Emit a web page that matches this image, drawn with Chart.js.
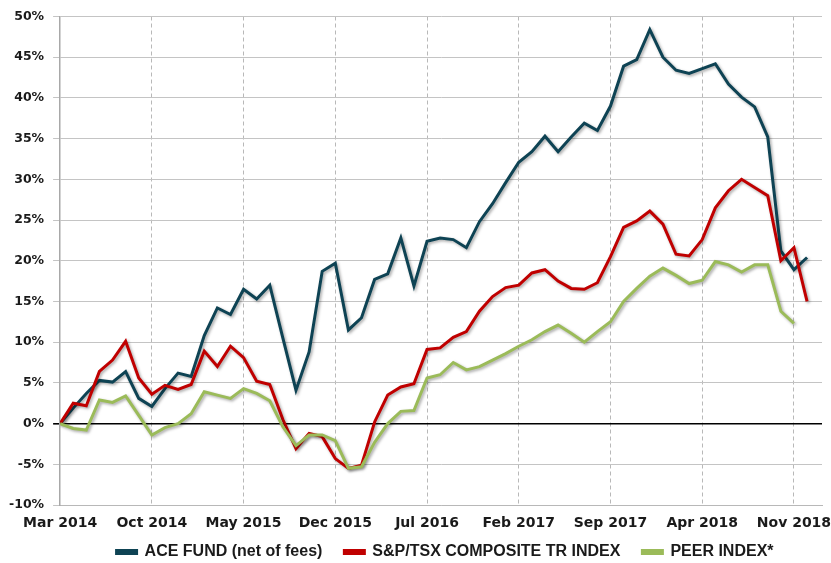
<!DOCTYPE html>
<html>
<head>
<meta charset="utf-8">
<script src="https://cdn.jsdelivr.net/npm/chart.js@4.4.0/dist/chart.umd.min.js"></script>
<style>
  html, body { margin: 0; padding: 0; background: #fff; }
  #wrap { width: 831px; height: 563px; }
</style>
</head>
<body>
<div id="wrap"><canvas id="perfChart"></canvas></div>
<script>
// mois de mars 2014 à décembre 2018
const months = ['Mar 2014','Apr 2014','May 2014','Jun 2014','Jul 2014','Aug 2014','Sep 2014',
  'Oct 2014','Nov 2014','Dec 2014','Jan 2015','Feb 2015','Mar 2015','Apr 2015',
  'May 2015','Jun 2015','Jul 2015','Aug 2015','Sep 2015','Oct 2015','Nov 2015',
  'Dec 2015','Jan 2016','Feb 2016','Mar 2016','Apr 2016','May 2016','Jun 2016',
  'Jul 2016','Aug 2016','Sep 2016','Oct 2016','Nov 2016','Dec 2016','Jan 2017',
  'Feb 2017','Mar 2017','Apr 2017','May 2017','Jun 2017','Jul 2017','Aug 2017',
  'Sep 2017','Oct 2017','Nov 2017','Dec 2017','Jan 2018','Feb 2018','Mar 2018',
  'Apr 2018','May 2018','Jun 2018','Jul 2018','Aug 2018','Sep 2018','Oct 2018',
  'Nov 2018','Dec 2018'];

const aceFund = [0, 1.9, 3.7, 5.3, 5.1, 6.4, 3.1, 2.1, 4.3, 6.2, 5.8, 10.8, 14.2, 13.4,
  16.5, 15.3, 17.0, 10.5, 4.1, 8.8, 18.7, 19.7, 11.5, 13.0, 17.7, 18.4, 22.8, 16.9,
  22.4, 22.8, 22.6, 21.6, 24.8, 27.0, 29.6, 32.1, 33.4, 35.3, 33.4, 35.2, 36.9, 36.0,
  39.0, 43.9, 44.7, 48.4, 45.0, 43.4, 43.0, 43.6, 44.2, 41.7, 40.1, 38.9, 35.2,
  21.2, 18.9, 20.4];

const spTsx = [0, 2.5, 2.2, 6.4, 7.8, 10.1, 5.6, 3.6, 4.7, 4.2, 4.8, 8.9, 7.0, 9.5,
  8.1, 5.2, 4.8, 0.5, -3.1, -1.2, -1.6, -4.3, -5.5, -5.1, 0.2, 3.5, 4.5, 4.9,
  9.1, 9.3, 10.6, 11.3, 13.8, 15.6, 16.7, 17.0, 18.5, 18.9, 17.5, 16.6, 16.5, 17.3,
  20.5, 24.1, 24.9, 26.1, 24.5, 20.8, 20.6, 22.6, 26.5, 28.6, 30.0, 29.0, 28.0,
  20.0, 21.6, 15.0];

const peerIndex = [0, -0.6, -0.8, 2.9, 2.6, 3.4, 1.0, -1.4, -0.5, 0.0, 1.2, 3.9, 3.5, 3.1,
  4.3, 3.7, 2.8, -0.4, -2.7, -1.4, -1.4, -2.1, -5.5, -5.3, -2.3, 0.0, 1.5, 1.6,
  5.6, 6.0, 7.5, 6.6, 7.0, 7.8, 8.6, 9.5, 10.3, 11.3, 12.1, 11.1, 10.0, 11.3,
  12.5, 15.0, 16.6, 18.1, 19.1, 18.2, 17.2, 17.6, 19.9, 19.5, 18.6, 19.5, 19.5,
  13.8, 12.3];

const seriesNames = ['ACE FUND (net of fees)', 'S&P/TSX COMPOSITE TR INDEX', 'PEER INDEX*'];
const seriesColors = ['#0e4354', '#c00000', '#9bbb59'];

function toPoints(values) {
    return values.map((v, i) => ({ x: i, y: v }));
}

// ombre légère sous les courbes
const shadowPlugin = {
    id: 'lineShadow',
    beforeDatasetDraw(chart) {
        const ctx = chart.ctx;
        ctx.save();
        ctx.shadowColor = 'rgba(0,0,0,0.35)';
        ctx.shadowBlur = 3;
        ctx.shadowOffsetX = 1.5;
        ctx.shadowOffsetY = 1.5;
    },
    afterDatasetDraw(chart) {
        chart.ctx.restore();
    }
};

// petit décalage de la légende après la mise en page
const legendShift = {
    id: 'legendShift',
    afterLayout(chart) {
        const lg = chart.legend;
        lg.top -= 10; lg.bottom -= 10;
        lg.left += 4; lg.right += 4;
    }
};

const tickFont = { family: 'DejaVu Sans', weight: 'bold' };

const ctx = document.getElementById('perfChart').getContext('2d');
new Chart(ctx, {
    type: 'line',
    data: {
        datasets: [aceFund, spTsx, peerIndex].map((vals, k) => ({
            label: seriesNames[k],
            data: toPoints(vals),
            borderColor: seriesColors[k],
            backgroundColor: seriesColors[k],
            borderWidth: 3,
            pointRadius: 0,
            tension: 0,
            fill: false,
            order: 2 - k
        }))
    },
    plugins: [shadowPlugin, legendShift],
    options: {
        responsive: true,
        maintainAspectRatio: false,
        animation: false,
        layout: { padding: { left: 0, right: 9, top: 12, bottom: -17 } },
        plugins: {
            tooltip: { enabled: false },
            legend: {
                position: 'bottom',
                fullSize: false,
                labels: {
                    sort: (a, b) => a.datasetIndex - b.datasetIndex,
                    boxWidth: 20,
                    boxHeight: 3,
                    padding: 22,
                    color: '#1a1a1a',
                    font: { family: 'Liberation Sans', size: 16, weight: 'bold' }
                }
            }
        },
        scales: {
            x: {
                type: 'linear',
                min: 0,
                max: 58.14,
                afterFit: scale => {
                    scale.height = 27;
                    scale.paddingRight = 0;
                    scale.paddingLeft = 0;
                },
                ticks: {
                    stepSize: 7,
                    includeBounds: false,
                    autoSkip: false,
                    maxRotation: 0,
                    padding: 10,
                    color: '#1a1a1a',
                    font: { ...tickFont, size: 14 },
                    callback: v => (v % 7 === 0 ? months[v] : null)
                },
                grid: {
                    color: c => (c.tick && c.tick.value === 0 ? 'rgba(0,0,0,0)' : '#b8b8b8'),
                    lineWidth: 1,
                    tickLength: 0
                },
                border: { display: true, color: '#b8b8b8', width: 1, dash: [4, 3] }
            },
            y: {
                min: -10,
                max: 50,
                ticks: {
                    stepSize: 5,
                    padding: 9,
                    color: '#1a1a1a',
                    font: { ...tickFont, size: 12.5 },
                    callback: v => v + '%'
                },
                grid: {
                    color: c => (c.tick && c.tick.value === 0 ? '#000000' : '#c4c4c4'),
                    lineWidth: c => (c.tick && c.tick.value === 0 ? 1.6 : 1),
                    tickLength: 7
                },
                border: { display: true, color: '#a8a8a8', width: 1.5 }
            }
        }
    }
});
</script>
</body>
</html>
